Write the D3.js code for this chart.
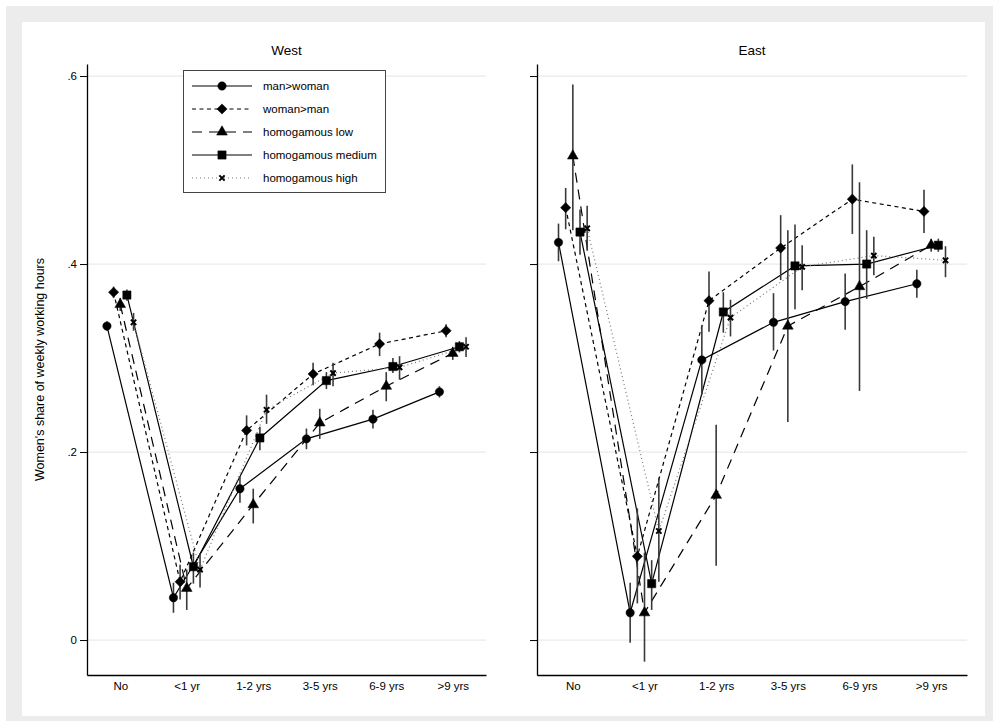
<!DOCTYPE html>
<html>
<head>
<meta charset="utf-8">
<script src="https://cdn.jsdelivr.net/npm/d3@7"></script>
<style>
  body { margin: 0; background: #fff; }
  text { font-family: "Liberation Sans", Arial, sans-serif; fill: #000; }
</style>
</head>
<body>
<script>
// categories on the x axis (years since birth of child)
var categories = ["No", "<1 yr", "1-2 yrs", "3-5 yrs", "6-9 yrs", ">9 yrs"];
var groups = ["man>woman", "woman>man", "homogamous low", "homogamous medium", "homogamous high"];

var yTicks = [0, 0.2, 0.4, 0.6];
var yTickLabels = ["0", ".2", ".4", ".6"];

// West: one row per group, one value per category
var westMean = [
  [0.334, 0.045, 0.161, 0.214, 0.235, 0.264],
  [0.370, 0.062, 0.223, 0.283, 0.315, 0.329],
  [0.357, 0.055, 0.144, 0.231, 0.270, 0.305],
  [0.367, 0.078, 0.215, 0.276, 0.291, 0.312],
  [0.338, 0.075, 0.245, 0.284, 0.290, 0.312]
];
var westLow = [
  [0.329, 0.029, 0.146, 0.203, 0.225, 0.258],
  [0.364, 0.043, 0.207, 0.271, 0.302, 0.322],
  [0.350, 0.032, 0.124, 0.214, 0.254, 0.298],
  [0.361, 0.060, 0.202, 0.267, 0.284, 0.306],
  [0.329, 0.056, 0.230, 0.270, 0.277, 0.301]
];
var westHigh = [
  [0.339, 0.061, 0.174, 0.225, 0.245, 0.270],
  [0.376, 0.080, 0.239, 0.295, 0.327, 0.336],
  [0.364, 0.075, 0.161, 0.246, 0.285, 0.312],
  [0.373, 0.093, 0.227, 0.285, 0.300, 0.318],
  [0.348, 0.092, 0.261, 0.295, 0.302, 0.322]
];

// East
var eastMean = [
  [0.423, 0.029, 0.298, 0.338, 0.360, 0.379],
  [0.460, 0.089, 0.361, 0.417, 0.469, 0.456],
  [0.515, 0.029, 0.154, 0.334, 0.376, 0.420],
  [0.434, 0.060, 0.349, 0.398, 0.400, 0.420],
  [0.438, 0.116, 0.343, 0.397, 0.409, 0.404]
];
var eastLow = [
  [0.403, -0.003, 0.261, 0.308, 0.330, 0.364],
  [0.437, 0.039, 0.328, 0.383, 0.432, 0.433],
  [0.436, -0.023, 0.079, 0.232, 0.265, 0.413],
  [0.410, 0.032, 0.327, 0.352, 0.363, 0.413],
  [0.414, 0.062, 0.323, 0.372, 0.388, 0.386]
];
var eastHigh = [
  [0.443, 0.061, 0.335, 0.369, 0.390, 0.394],
  [0.481, 0.140, 0.392, 0.452, 0.506, 0.479],
  [0.591, 0.093, 0.229, 0.436, 0.487, 0.427],
  [0.458, 0.085, 0.370, 0.442, 0.436, 0.427],
  [0.462, 0.173, 0.362, 0.420, 0.429, 0.419]
];

var offsets = [-0.2, -0.1, 0, 0.1, 0.2];

var W = 999, H = 727;
var svg = d3.select("body").append("svg")
  .attr("width", W)
  .attr("height", H);

// grey graph region frame
svg.append("rect").attr("x", 6).attr("y", 6).attr("width", 987).attr("height", 715).attr("fill", "#ececec");
svg.append("rect").attr("x", 22).attr("y", 22).attr("width", 963).attr("height", 694).attr("fill", "#fff");

// line styles and markers per group (diamond = square turned 45 degrees)
var dashes = [null, "4,3.5", "10,7", null, "1,3"];
var lineColors = ["#000", "#000", "#000", "#000", "#777"];
var symbols = [d3.symbolCircle, d3.symbolSquare, d3.symbolTriangle, d3.symbolSquare, d3.symbolX];
var symSizes = [55, 52, 50, 68, 20];
var symRotate = [0, 45, 0, 0, 0];

var y = d3.scaleLinear().domain([-0.0372, 0.6128]).range([675, 64]);

function markerAttrs(sel, gi) {
  sel.attr("fill", gi === 4 ? "none" : "#000")
    .attr("stroke", "#000")
    .attr("stroke-width", gi === 4 ? 2 : 0.5);
}

function drawPanel(title, x0, x1, means, lows, highs, showLabels, showLegend) {
  var x = d3.scaleLinear().domain([-0.5, 5.5]).range([x0, x1]);
  var g = svg.append("g");

  // grid
  g.selectAll(".grid").data(yTicks).enter().append("line")
    .attr("x1", x0).attr("x2", x1)
    .attr("y1", function(d) { return y(d); })
    .attr("y2", function(d) { return y(d); })
    .attr("stroke", "#eaeaea").attr("stroke-width", 1.2);

  // axes
  var yAxis = d3.axisLeft(y).tickValues(yTicks).tickSize(7).tickSizeOuter(0).tickPadding(3)
    .tickFormat(function(d, i) { return showLabels ? yTickLabels[i] : ""; });
  var ya = g.append("g").attr("transform", "translate(" + x0 + ",0)").call(yAxis);
  ya.select(".domain").attr("stroke", "#000").attr("stroke-width", 1.3);
  ya.selectAll("text").style("font-size", "11.5px").style("font-family", "Liberation Sans, Arial, sans-serif");

  var xAxis = d3.axisBottom(x).tickValues(d3.range(categories.length)).tickSize(0).tickSizeOuter(0).tickPadding(7)
    .tickFormat(function(d) { return categories[d]; });
  var xa = g.append("g").attr("transform", "translate(0," + y.range()[0] + ")").call(xAxis);
  xa.select(".domain").attr("stroke", "#000").attr("stroke-width", 1.3);
  xa.selectAll("text").style("font-size", "11.5px").style("font-family", "Liberation Sans, Arial, sans-serif");

  // title
  g.append("text").attr("x", (x0 + x1) / 2).attr("y", 55)
    .attr("text-anchor", "middle").style("font-size", "13.5px").text(title);

  // lines
  groups.forEach(function(grp, gi) {
    var line = d3.line()
      .x(function(d, i) { return x(i + offsets[gi]); })
      .y(function(d) { return y(d); });
    g.append("path").datum(means[gi])
      .attr("d", line)
      .attr("fill", "none")
      .attr("stroke", lineColors[gi])
      .attr("stroke-width", 1.2)
      .attr("stroke-dasharray", dashes[gi]);
  });

  // error bars
  groups.forEach(function(grp, gi) {
    g.selectAll(".err" + gi).data(lows[gi]).enter().append("line")
      .attr("x1", function(d, i) { return x(i + offsets[gi]); })
      .attr("x2", function(d, i) { return x(i + offsets[gi]); })
      .attr("y1", function(d) { return y(d); })
      .attr("y2", function(d, i) { return y(highs[gi][i]); })
      .attr("stroke", "#3a3a3a").attr("stroke-width", 1.6);
  });

  // markers
  groups.forEach(function(grp, gi) {
    var sym = d3.symbol().type(symbols[gi]).size(symSizes[gi]);
    g.selectAll(".mk" + gi).data(means[gi]).enter().append("path")
      .attr("d", sym)
      .attr("transform", function(d, i) {
        return "translate(" + x(i + offsets[gi]) + "," + y(d) + ") rotate(" + symRotate[gi] + ")";
      })
      .call(markerAttrs, gi);
  });

  if (showLegend) {
    var lg = svg.append("g");
    lg.append("rect").attr("x", 183.5).attr("y", 70.5).attr("width", 202).attr("height", 122)
      .attr("fill", "#fff").attr("stroke", "#444").attr("stroke-width", 1);
    groups.forEach(function(grp, gi) {
      var ly = 86 + gi * 23;
      lg.append("line").attr("x1", 192).attr("x2", 252).attr("y1", ly).attr("y2", ly)
        .attr("stroke", lineColors[gi]).attr("stroke-width", 1.2)
        .attr("stroke-dasharray", dashes[gi]);
      lg.append("path").attr("d", d3.symbol().type(symbols[gi]).size(symSizes[gi]))
        .attr("transform", "translate(222," + ly + ") rotate(" + symRotate[gi] + ")")
        .call(markerAttrs, gi);
      lg.append("text").attr("x", 263).attr("y", ly + 4)
        .style("font-size", "11.5px").text(grp);
    });
  }
}

drawPanel("West", 87, 486, westMean, westLow, westHigh, true, true);
drawPanel("East", 537, 967, eastMean, eastLow, eastHigh, false, false);

// y axis title
svg.append("text")
  .attr("transform", "translate(44," + ((64 + 675) / 2) + ") rotate(-90)")
  .attr("text-anchor", "middle")
  .style("font-size", "12.5px")
  .text("Women's share of weekly working hours");
</script>
</body>
</html>
